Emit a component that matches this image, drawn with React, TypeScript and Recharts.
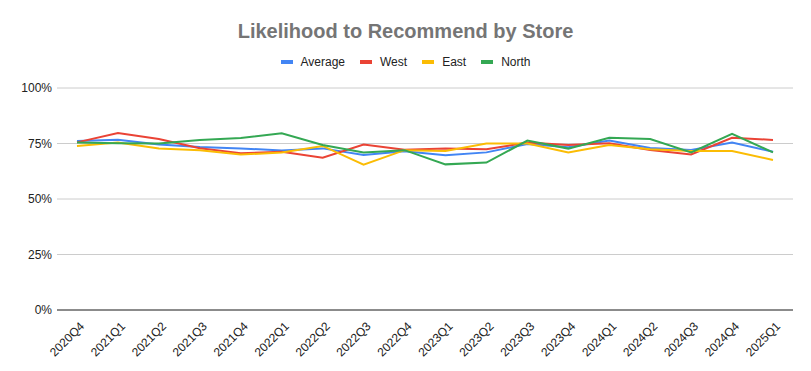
import React from 'react';
import { LineChart, Line, XAxis, YAxis, CartesianGrid } from 'recharts';

const quarters = [
  '2020Q4', '2021Q1', '2021Q2', '2021Q3', '2021Q4', '2022Q1', '2022Q2', '2022Q3', '2022Q4',
  '2023Q1', '2023Q2', '2023Q3', '2023Q4', '2024Q1', '2024Q2', '2024Q3', '2024Q4', '2025Q1',
];

const average = [76.1, 76.7, 74.5, 73.4, 72.8, 71.8, 72.8, 69.8, 71.5, 69.7, 71.0, 74.8, 73.3, 76.3, 73.0, 72.1, 75.4, 71.3];
const west = [75.5, 79.7, 77.0, 72.9, 70.6, 71.3, 68.6, 74.5, 72.2, 72.8, 72.4, 75.4, 74.3, 75.1, 72.1, 70.1, 77.6, 76.6];
const east = [73.9, 75.5, 72.7, 72.0, 70.0, 71.0, 73.9, 65.5, 72.0, 71.6, 75.0, 75.0, 71.0, 74.3, 72.4, 71.6, 71.6, 67.6];
const north = [75.5, 75.1, 75.0, 76.6, 77.5, 79.6, 74.3, 71.0, 72.0, 65.6, 66.4, 76.3, 72.7, 77.6, 77.0, 71.0, 79.3, 71.0];

const yTicks = [0, 25, 50, 75, 100];

const series = [
  { key: 'average', name: 'Average', color: '#4285F4' },
  { key: 'west', name: 'West', color: '#EA4335' },
  { key: 'east', name: 'East', color: '#FBBC04' },
  { key: 'north', name: 'North', color: '#34A853' },
];

const data = quarters.map((q, i) => ({
  q,
  average: average[i],
  west: west[i],
  east: east[i],
  north: north[i],
}));

const font = 'Arial, "Liberation Sans", sans-serif';

const QuarterTick = ({ x, y, payload }: any) => (
  <g transform={`translate(${x + 5},${y + 6})`}>
    <text
      transform="rotate(-45)"
      textAnchor="end"
      dy="0.35em"
      fontSize={12}
      fontFamily={font}
      fill="#222"
    >
      {payload.value}
    </text>
  </g>
);

const App: React.FC = () => {
  return (
    <div style={{ position: 'relative', width: 811, height: 371, background: '#fff', fontFamily: font }}>
      <style>{'body { margin: 0; }'}</style>
      <div
        style={{
          position: 'absolute',
          top: 21,
          left: 0,
          width: 811,
          textAlign: 'center',
          fontSize: 20,
          lineHeight: '20px',
          fontWeight: 'bold',
          color: '#757575',
        }}
      >
        Likelihood to Recommend by Store
      </div>
      <div
        style={{
          position: 'absolute',
          top: 56,
          left: 0,
          width: 811,
          display: 'flex',
          justifyContent: 'center',
          alignItems: 'center',
          fontSize: 12,
          lineHeight: '12px',
          color: '#222',
        }}
      >
        {series.map((s, i) => (
          <div key={s.key} style={{ display: 'flex', alignItems: 'center', marginLeft: i === 0 ? 0 : 15 }}>
            <span style={{ display: 'inline-block', width: 12, height: 4, background: s.color, marginRight: 8 }} />
            <span>{s.name}</span>
          </div>
        ))}
      </div>
      <LineChart width={811} height={371} data={data} margin={{ top: 88, right: 18, left: 0, bottom: 0 }}>
        <CartesianGrid vertical={false} stroke="#cccccc" />
        <XAxis
          dataKey="q"
          interval={0}
          height={61}
          padding={{ left: 20, right: 20 }}
          tickLine={false}
          axisLine={{ stroke: '#333333' }}
          tick={<QuarterTick />}
        />
        <YAxis
          width={57}
          domain={[0, 100]}
          ticks={yTicks}
          tickFormatter={(v) => `${v}%`}
          axisLine={false}
          tickLine={false}
          tickSize={0}
          tickMargin={5}
          tick={{ fontSize: 12, fill: '#222', fontFamily: font }}
        />
        {series.map((s) => (
          <Line
            key={s.key}
            type="linear"
            dataKey={s.key}
            name={s.name}
            stroke={s.color}
            strokeWidth={2}
            dot={false}
            isAnimationActive={false}
          />
        ))}
      </LineChart>
    </div>
  );
};

export default App;
